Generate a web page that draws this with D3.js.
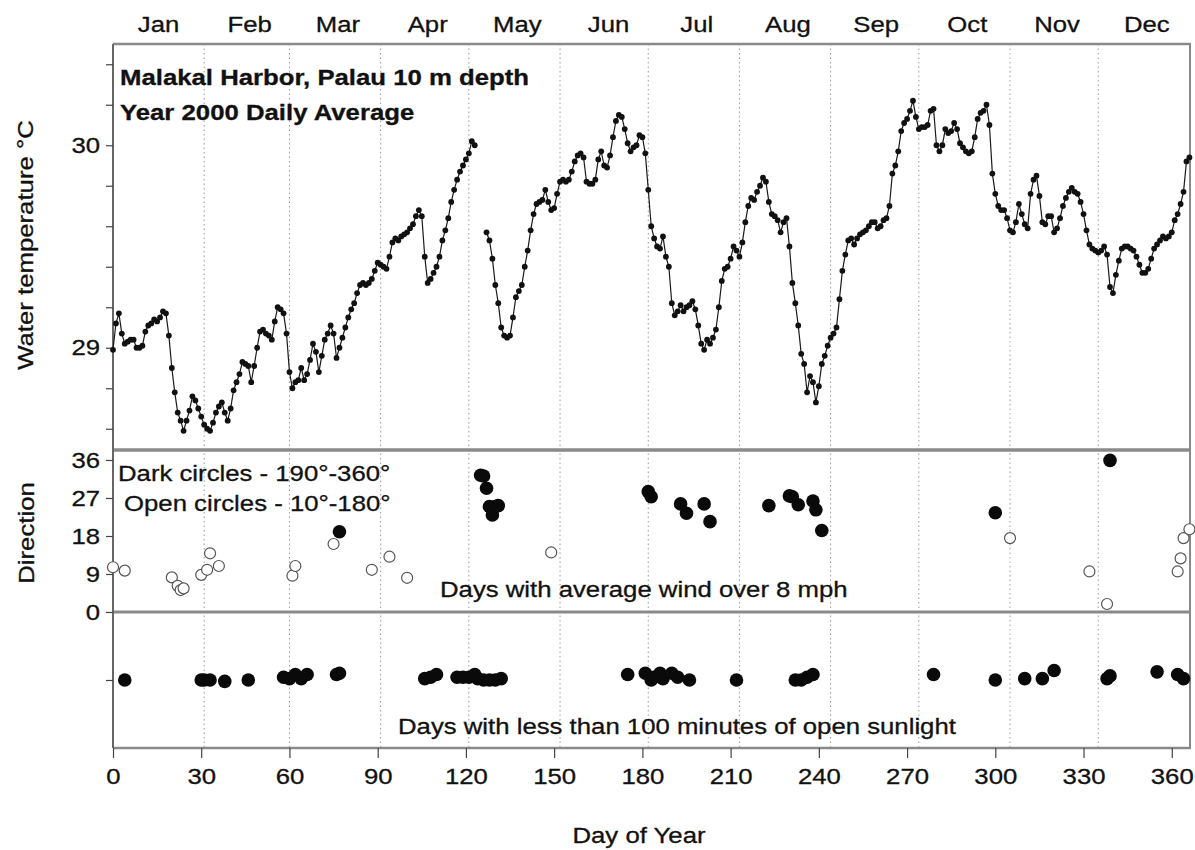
<!DOCTYPE html>
<html><head><meta charset="utf-8">
<script src="https://cdn.jsdelivr.net/npm/d3@7"></script>
<style>
body{margin:0;background:#fff}
svg{display:block}
text{font-family:"Liberation Sans",Arial,Helvetica,sans-serif;fill:#111;stroke:#111;stroke-width:0.3px}
</style>
</head><body>
<svg id="chart" width="1195" height="850"></svg>
<script>
// ---------------- data ----------------
const months = ["Jan","Feb","Mar","Apr","May","Jun","Jul","Aug","Sep","Oct","Nov","Dec"];
const monthLabelDays = [15.5,46.5,76.5,107,137.5,168.5,198.5,229.5,259.5,290.5,321,351.5];
const monthStartDays = [31,60,91,121,152,182,213,244,274,305,335];
const dayTicks = [0,30,60,90,120,150,180,210,240,270,300,330,360];
const tempTicks = [28.6,28.8,29,29.2,29.4,29.6,29.8,30,30.2,30.4];
const tempLabelled = [29,30];
const dirTicks = [0,9,18,27,36];
const sunTicks = [5];

// daily average water temperature, day 0 .. 366 (null = no data)
const temps = [
28.99,29.12,29.17,29.07,29.02,29.03,29.04,29.04,29.00,29.00,
29.01,29.08,29.11,29.12,29.14,29.13,29.15,29.18,29.17,29.06,
28.90,28.78,28.68,28.64,28.59,28.64,28.69,28.76,28.74,28.70,
28.66,28.62,28.60,28.59,28.63,28.68,28.71,28.73,28.68,28.64,
28.70,28.79,28.83,28.87,28.93,28.92,28.91,28.83,28.91,29.00,
29.08,29.09,29.07,29.06,29.04,29.13,29.20,29.19,29.17,29.07,
28.88,28.80,28.83,28.84,28.90,28.84,28.87,28.94,29.02,28.98,
28.88,28.96,29.04,29.07,29.11,29.07,28.95,29.00,29.05,29.10,
29.15,29.19,29.22,29.27,29.31,29.32,29.31,29.32,29.34,29.38,
29.42,29.41,29.40,29.39,29.45,29.52,29.54,29.53,29.55,29.56,
29.57,29.59,29.61,29.65,29.68,29.65,29.45,29.32,29.34,29.37,
29.40,29.45,29.53,29.58,29.64,29.72,29.78,29.83,29.87,29.90,
29.93,29.96,30.02,30.00,null,null,null,29.57,29.53,29.44,
29.31,29.22,29.10,29.06,29.05,29.06,29.15,29.25,29.28,29.31,
29.40,29.48,29.58,29.66,29.71,29.72,29.73,29.78,29.72,29.68,
29.69,29.76,29.82,29.83,29.82,29.83,29.87,29.92,29.95,29.96,
29.94,29.82,29.81,29.81,29.83,29.93,29.97,29.90,29.89,29.95,
30.04,30.12,30.15,30.14,30.08,30.01,29.97,29.99,30.00,30.05,
30.04,29.96,29.78,29.60,29.54,29.50,29.49,29.55,29.45,29.40,
29.22,29.16,29.18,29.21,29.18,29.20,29.21,29.23,29.19,29.11,
29.02,28.99,29.04,29.02,29.05,29.09,29.20,29.33,29.39,29.40,
29.44,29.50,29.48,29.45,29.52,29.62,29.70,29.74,29.73,29.77,
29.80,29.84,29.82,29.72,29.66,29.65,29.63,29.57,29.62,29.64,
29.50,29.32,29.22,29.11,28.97,28.92,28.78,28.86,28.83,28.73,
28.81,28.92,28.96,29.01,29.05,29.07,29.10,29.24,29.38,29.46,
29.53,29.54,29.51,29.54,29.56,29.57,29.58,29.60,29.62,29.62,
29.59,29.60,29.63,29.64,29.70,29.86,29.90,29.97,30.07,30.11,
30.13,30.17,30.22,30.14,30.08,30.09,30.09,30.10,30.17,30.18,
30.00,29.97,30.00,30.08,30.06,30.07,30.11,30.08,30.01,29.99,
29.97,29.96,29.97,30.04,30.13,30.16,30.17,30.20,30.10,29.86,
29.76,29.70,29.68,29.68,29.64,29.58,29.57,29.62,29.71,29.66,
29.61,29.59,29.76,29.83,29.85,29.75,29.62,29.61,29.65,29.65,
29.57,29.59,29.64,29.70,29.74,29.77,29.79,29.77,29.76,29.72,
29.66,29.58,29.51,29.49,29.48,29.47,29.48,29.50,29.46,29.30,
29.27,29.36,29.43,29.49,29.50,29.50,29.49,29.48,29.45,29.41,
29.37,29.37,29.39,29.44,29.49,29.51,29.53,29.55,29.54,29.55,
29.57,29.63,29.66,29.71,29.77,29.92,29.94
];

// windy days: [day, direction/10]
const windDarkDays = [77,125,126,127,128,129,130,131,182,183,193,195,201,203,223,230,231,233,238,239,241,300,339];
const windDarkDir  = [19.0,32.4,32.2,29.3,25.0,23.0,25.0,25.2,28.5,27.3,25.6,23.4,25.6,21.4,25.2,27.5,27.3,25.4,26.3,24.2,19.3,23.5,35.9];
const windOpenDays = [0,4,20,22,23,24,30,32,33,36,61,62,75,88,94,100,149,305,332,338,362,363,364,366];
const windOpenDir  = [10.6,9.8,8.2,6.2,5.2,5.6,8.8,10.0,13.9,10.9,8.6,10.9,16.1,10.0,13.1,8.1,14.1,17.5,9.6,1.9,9.6,12.7,17.5,19.6];

// days with < 100 minutes of open sunlight (marker level within panel)
const lowSunDays  = [4,30,31,33,38,46,58,60,62,64,66,76,77,106,108,110,117,119,121,123,124,126,128,130,132,175,181,183,184,186,187,190,192,196,212,232,234,236,238,279,300,310,316,320,338,339,355,362,364];
const lowSunLevel = [5,5,5,5,4.9,5,5.2,5.1,5.4,5.1,5.4,5.4,5.5,5.1,5.2,5.4,5.2,5.2,5.2,5.4,5.1,5,5,5,5.1,5.4,5.5,5,5.2,5.5,5.1,5.5,5.2,5,5,5,5,5.2,5.4,5.4,5,5.1,5.1,5.7,5.1,5.3,5.6,5.4,5.1];

// ---------------- layout ----------------
const L = 113, R = 1190, T = 44, S1 = 450, S2 = 612, B = 748;
const SX = 1.17; // horizontal stretch of the lettering
const svg = d3.select("#chart");

const x  = d3.scaleLinear().domain([0, 366.2]).range([L, R]);
const yT = d3.scaleLinear().domain([28.5, 30.5]).range([449, T]);
const yD = d3.scaleLinear().domain([0, 36]).range([S2, 460]);
const yS = d3.scaleLinear().domain([0, 10]).range([B, S2]);

function label(str, px, py, o = {}) {
  return svg.append("text")
    .attr("transform", `translate(${px},${py}) rotate(${o.rotate||0}) scale(${SX},1)`)
    .attr("text-anchor", o.anchor || "start")
    .style("font-size", (o.size || 22) + "px")
    .style("font-weight", o.weight || "normal")
    .text(str);
}

// grid lines at month starts
svg.append("g").selectAll("line").data(monthStartDays).join("line")
  .attr("x1", d => x(d)).attr("x2", d => x(d))
  .attr("y1", T).attr("y2", B)
  .attr("stroke", "#9a9a9a").attr("stroke-width", 1)
  .attr("stroke-dasharray", "1.5,3");

// frame
const frame = svg.append("g").attr("stroke", "#8a8a8a").attr("fill", "none");
frame.append("line").attr("x1", L).attr("x2", R + 1).attr("y1", T).attr("y2", T).attr("stroke-width", 2.5);
frame.append("line").attr("x1", L).attr("x2", R + 1).attr("y1", S1).attr("y2", S1).attr("stroke-width", 3.5);
frame.append("line").attr("x1", L).attr("x2", R + 1).attr("y1", S2).attr("y2", S2).attr("stroke-width", 3);
frame.append("line").attr("x1", L).attr("x2", R + 1).attr("y1", B).attr("y2", B).attr("stroke-width", 2.5);
frame.append("line").attr("x1", R).attr("x2", R).attr("y1", T).attr("y2", B).attr("stroke-width", 2);
frame.append("line").attr("x1", L).attr("x2", L).attr("y1", T).attr("y2", B).attr("stroke", "#666").attr("stroke-width", 2);

// axes
function styleAxis(g) {
  g.select(".domain").remove();
  g.selectAll(".tick line").attr("stroke", "#444").attr("stroke-width", 1.2);
  g.selectAll(".tick text").style("font-size", "22px").attr("fill", "#111")
    .style("font-family", '"Liberation Sans",Arial,sans-serif');
}
const gx = svg.append("g").attr("transform", `translate(0,${B})`)
  .call(d3.axisBottom(x).tickValues(dayTicks).tickSize(10).tickPadding(10).tickFormat(d3.format("d")));
styleAxis(gx);
gx.selectAll(".tick text").attr("transform", `scale(${SX},1)`);

const gyT = svg.append("g").attr("transform", `translate(${L},0)`)
  .call(d3.axisLeft(yT).tickValues(tempTicks).tickSize(7).tickPadding(4)
    .tickFormat(d => tempLabelled.includes(d) ? d3.format("d")(d) : ""));
styleAxis(gyT);
gyT.selectAll(".tick text").attr("transform", `scale(${SX},1)`);

const gyD = svg.append("g").attr("transform", `translate(${L},0)`)
  .call(d3.axisLeft(yD).tickValues(dirTicks).tickSize(7).tickPadding(4).tickFormat(d3.format("d")));
styleAxis(gyD);
gyD.selectAll(".tick text").attr("transform", `scale(${SX},1)`);

const gyS = svg.append("g").attr("transform", `translate(${L},0)`)
  .call(d3.axisLeft(yS).tickValues(sunTicks).tickSize(7).tickFormat(""));
styleAxis(gyS);

// month labels (top)
svg.append("g").selectAll("text").data(months).join("text")
  .attr("transform", (d, i) => `translate(${x(monthLabelDays[i])},32) scale(${SX},1)`)
  .attr("text-anchor", "middle").style("font-size", "22px").text(d => d);

// temperature series
const tempPts = temps.map((v, i) => ({day: i, v})).filter(d => d.v != null);
svg.append("path").datum(temps.map((v, i) => ({day: i, v})))
  .attr("fill", "none").attr("stroke", "#1a1a1a").attr("stroke-width", 1.2)
  .attr("d", d3.line().defined(d => d.v != null).x(d => x(d.day)).y(d => yT(d.v)));
svg.append("g").selectAll("circle").data(tempPts).join("circle")
  .attr("cx", d => x(d.day)).attr("cy", d => yT(d.v)).attr("r", 2.9).attr("fill", "#111");

// wind direction
svg.append("g").selectAll("circle").data(windOpenDays).join("circle")
  .attr("cx", d => x(d)).attr("cy", (d, i) => yD(windOpenDir[i])).attr("r", 5.5)
  .attr("fill", "#fff").attr("stroke", "#555").attr("stroke-width", 1.2);
svg.append("g").selectAll("circle").data(windDarkDays).join("circle")
  .attr("cx", d => x(d)).attr("cy", (d, i) => yD(windDarkDir[i])).attr("r", 6.8)
  .attr("fill", "#0a0a0a");

// low-sunlight days
svg.append("g").selectAll("circle").data(lowSunDays).join("circle")
  .attr("cx", d => x(d)).attr("cy", (d, i) => yS(lowSunLevel[i])).attr("r", 6.8)
  .attr("fill", "#0a0a0a");

// texts
label("Malakal Harbor, Palau 10 m depth", 120, 85, {weight: "bold", size: 22});
label("Year 2000 Daily Average", 120, 120, {weight: "bold", size: 22});
label("Dark circles - 190°-360°", 118, 481);
label("Open circles - 10°-180°", 124, 511);
label("Days with average wind over 8 mph", 440, 597);
label("Days with less than 100 minutes of open sunlight", 398, 734);
label("Day of Year", 639, 843, {anchor: "middle"});
label("Water temperature °C", 33, 245, {anchor: "middle", rotate: -90});
label("Direction", 34, 533, {anchor: "middle", rotate: -90});
</script>
</body></html>
